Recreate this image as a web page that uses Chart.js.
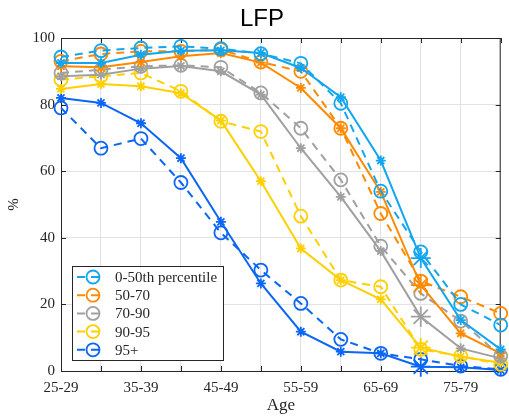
<!DOCTYPE html>
<html><head><meta charset="utf-8">
<script src="https://cdn.jsdelivr.net/npm/chart.js@4/dist/chart.umd.min.js"></script>
<style>html,body{margin:0;padding:0;background:#fff;}#wrap{width:509px;height:417px;}</style>
</head><body><div id="wrap"><canvas id="c" width="509" height="417"></canvas></div>
<script>
const chartTitle = 'LFP';
const xAxisTitle = 'Age';
const yAxisTitle = '%';
const ageGroups = ['25-29','30-34','35-39','40-44','45-49','50-54','55-59','60-64','65-69','70-74','75-79','80-84'];
const yTickValues = [0, 20, 40, 60, 80, 100];
const groupNames = ['0-50th percentile', '50-70', '70-90', '90-95', '95+'];

// dashed lines with open circles (shown in legend)
const p0_50Dashed = [94.3, 96.2, 97.0, 97.5, 96.8, 95.3, 92.4, 80.4, 54.0, 35.8, 20.0, 13.8];
const p50_70Dashed = [93.0, 95.2, 96.0, 96.0, 96.5, 92.8, 90.0, 72.9, 47.3, 27.0, 22.3, 17.3];
const p70_90Dashed = [89.5, 90.5, 91.5, 91.8, 91.2, 83.5, 72.9, 57.4, 37.5, 23.3, 15.0, 4.5];
const p90_95Dashed = [87.5, 88.5, 89.5, 84.0, 75.0, 71.9, 46.5, 27.3, 25.3, 6.5, 4.5, 2.0];
const p95Dashed = [79.0, 66.9, 69.8, 56.6, 41.5, 30.3, 20.3, 9.5, 5.3, 3.5, 1.5, 0.5];

// solid lines with star markers
const p0_50Solid = [92.5, 92.5, 95.0, 96.2, 96.3, 95.5, 91.0, 82.2, 63.2, 33.9, 15.3, 6.5];
const p50_70Solid = [91.5, 91.2, 92.8, 94.5, 95.5, 92.6, 85.0, 72.9, 53.8, 25.8, 11.3, 5.3];
const p70_90Solid = [88.5, 89.0, 90.8, 91.6, 90.0, 83.0, 66.9, 52.3, 36.0, 16.3, 6.8, 3.8];
const p90_95Solid = [84.7, 86.2, 85.5, 83.4, 75.2, 57.0, 36.8, 27.3, 21.5, 7.0, 4.3, 2.5];
const p95Solid = [82.0, 80.5, 74.4, 63.9, 44.8, 26.3, 11.8, 5.8, 5.3, 1.3, 1.1, 0.3];

const groupColors = ['#12A6F0', '#FF8A00', '#A0A0A0', '#FFD000', '#0A66F5'];
const dashedSeries = [p0_50Dashed, p50_70Dashed, p70_90Dashed, p90_95Dashed, p95Dashed];
const solidSeries = [p0_50Solid, p50_70Solid, p70_90Solid, p90_95Solid, p95Solid];

const serif = '"Liberation Serif", "Times New Roman", serif';
const axisColor = '#262626';

const datasets = [];
groupNames.forEach((name, g) => {
  const col = groupColors[g];
  datasets.push({
    label: name, data: dashedSeries[g], inLegend: true,
    borderColor: col, borderWidth: 2, borderDash: [8, 6],
    pointStyle: 'circle', pointRadius: 6.5, pointHoverRadius: 6.5, pointBorderWidth: 1.8,
    pointBorderColor: col, pointBackgroundColor: 'rgba(0,0,0,0)',
    clip: false, tension: 0, fill: false
  });
  datasets.push({
    label: name + ' (solid)', data: solidSeries[g], inLegend: false,
    borderColor: col, borderWidth: 2,
    pointStyle: 'star', pointRadius: c => (c.dataIndex === 9 ? 10 : 5), pointHoverRadius: 5,
    pointBorderWidth: 1.8, pointBorderColor: col, pointBackgroundColor: col,
    clip: false, tension: 0, fill: false
  });
});

const framePlugin = {
  id: 'frame',
  beforeDatasetsDraw(chart) {
    const ctx = chart.ctx, ca = chart.chartArea;
    const xs = chart.scales.x, ys = chart.scales.y;
    ctx.save();
    ctx.strokeStyle = axisColor; ctx.lineWidth = 1;
    ctx.beginPath();
    ctx.moveTo(ca.left, ca.top + 0.5); ctx.lineTo(ca.right, ca.top + 0.5);
    ctx.moveTo(ca.right - 0.5, ca.top); ctx.lineTo(ca.right - 0.5, ca.bottom);
    const tl = 5;
    for (let i = 0; i < ageGroups.length; i++) {
      const px = Math.round(xs.getPixelForTick(i)) + 0.5;
      ctx.moveTo(px, ca.bottom); ctx.lineTo(px, ca.bottom - tl);
      ctx.moveTo(px, ca.top); ctx.lineTo(px, ca.top + tl);
    }
    yTickValues.forEach(v => {
      const py = Math.round(ys.getPixelForValue(v)) + 0.5;
      ctx.moveTo(ca.left, py); ctx.lineTo(ca.left + tl, py);
      ctx.moveTo(ca.right, py); ctx.lineTo(ca.right - tl, py);
    });
    ctx.stroke();
    ctx.restore();
  },
  afterDatasetsDraw(chart) {
    const ctx = chart.ctx, ca = chart.chartArea;
    const bx = ca.left + 11, by = ca.bottom - 105, bw = 151, bh = 94;
    ctx.save();
    ctx.fillStyle = '#fff';
    ctx.fillRect(bx, by, bw, bh);
    ctx.strokeStyle = axisColor; ctx.lineWidth = 1;
    ctx.strokeRect(bx + 0.5, by + 0.5, bw, bh);
    const items = chart.data.datasets.filter(d => d.inLegend);
    items.forEach((d, i) => {
      const y = by + 11 + i * 18.2;
      ctx.strokeStyle = d.borderColor; ctx.lineWidth = 2;
      ctx.setLineDash([8, 6]);
      ctx.beginPath(); ctx.moveTo(bx + 5, y); ctx.lineTo(bx + 33, y); ctx.stroke();
      ctx.setLineDash([]);
      ctx.lineWidth = 1.8;
      ctx.beginPath(); ctx.arc(bx + 21, y, 6.5, 0, Math.PI * 2); ctx.stroke();
      ctx.fillStyle = axisColor;
      ctx.font = '15px ' + serif;
      ctx.textAlign = 'left'; ctx.textBaseline = 'middle';
      ctx.fillText(d.label, bx + 43, y + 1);
    });
    ctx.restore();
  },
  afterDraw(chart) {
    const ctx = chart.ctx;
    ctx.save();
    ctx.fillStyle = '#000';
    ctx.font = '24px "Liberation Sans", Arial, sans-serif';
    ctx.textAlign = 'center'; ctx.textBaseline = 'alphabetic';
    ctx.fillText(chartTitle, 262, 26);
    ctx.restore();
  }
};

new Chart(document.getElementById('c'), {
  type: 'line',
  data: { labels: ageGroups, datasets },
  options: {
    responsive: false, animation: false, devicePixelRatio: 1,
    layout: { padding: { top: 38, right: 5, left: 0, bottom: 0 } },
    plugins: { legend: { display: false }, title: { display: false }, tooltip: { enabled: false } },
    scales: {
      x: {
        type: 'category', offset: false,
        grid: { color: '#E2E2E2', drawTicks: false, offset: false },
        border: { color: axisColor, width: 1 },
        ticks: {
          autoSkip: false, maxRotation: 0, padding: 8, color: axisColor,
          font: { family: serif, size: 15 },
          callback: (v, i) => (i % 2 === 0 ? ageGroups[i] : '')
        },
        title: { display: true, text: xAxisTitle, color: axisColor, font: { family: serif, size: 17 }, padding: { top: 0, bottom: 1 } },
        afterFit: s => { s.height = 46; }
      },
      y: {
        min: 0, max: 100,
        afterBuildTicks: s => { s.ticks = yTickValues.map(v => ({ value: v })); },
        grid: { color: '#E2E2E2', drawTicks: false },
        border: { color: axisColor, width: 1 },
        ticks: { padding: 6, color: axisColor, font: { family: serif, size: 15 } },
        title: { display: true, text: yAxisTitle, color: axisColor, font: { family: serif, size: 15 }, padding: { top: 5 } },
        afterFit: s => { s.width = 61; }
      }
    }
  },
  plugins: [framePlugin]
});
</script>
</body></html>
